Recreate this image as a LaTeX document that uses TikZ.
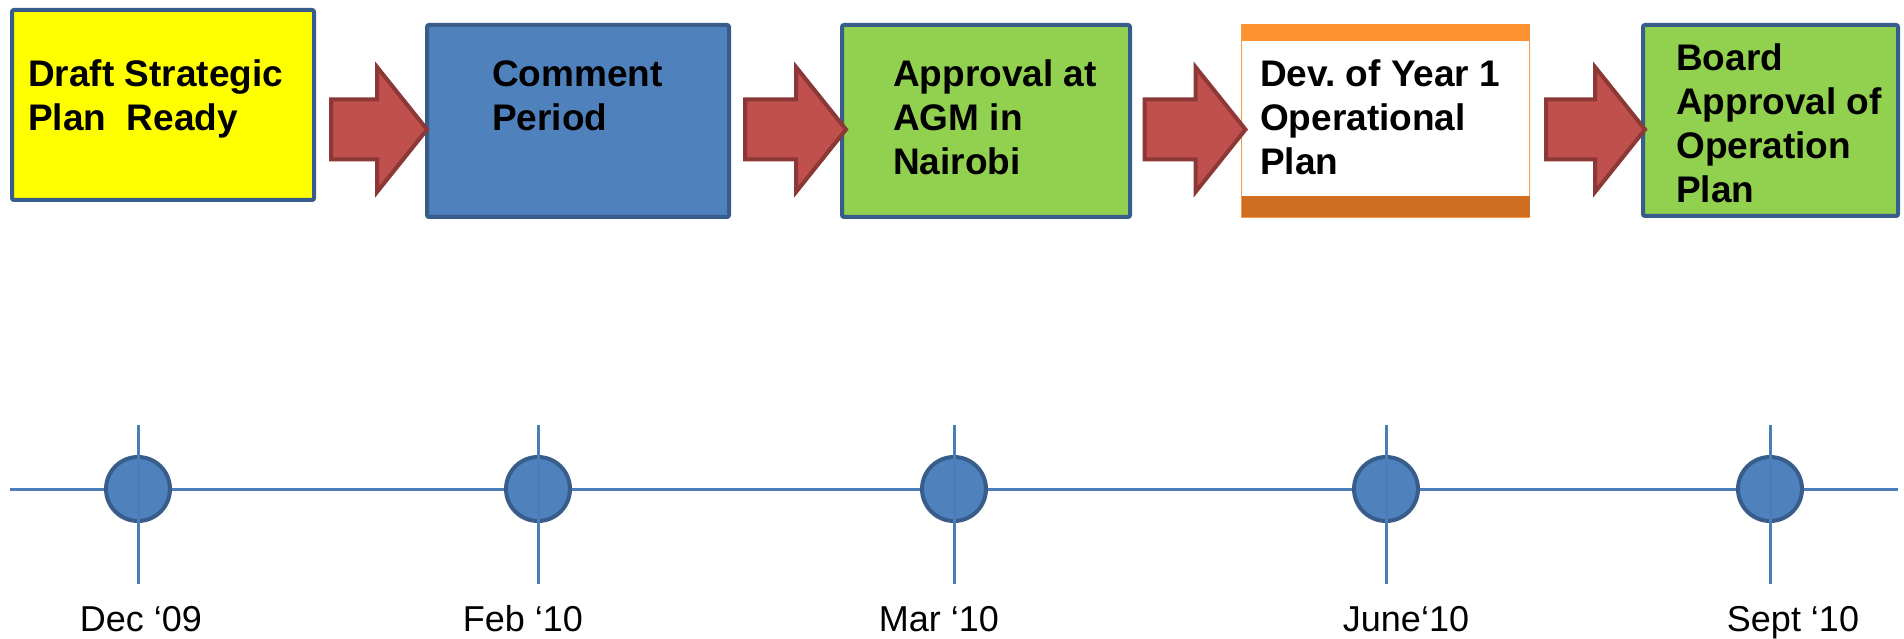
\documentclass[tikz,border=0pt]{standalone}
\usepackage{fontspec}
\setmainfont{Liberation Sans}
\usetikzlibrary{calc}
\frenchspacing
\definecolor{boxedge}{HTML}{385D8A}
\definecolor{boxblue}{HTML}{4F81BD}
\definecolor{boxgreen}{HTML}{92D050}
\definecolor{boxyellow}{HTML}{FFFF00}
\definecolor{arrfill}{HTML}{C0504D}
\definecolor{arredge}{HTML}{8C3836}
\definecolor{orangetop}{HTML}{FD9330}
\definecolor{orangebot}{HTML}{CF6E20}
\definecolor{orangeedge}{HTML}{F79646}
\definecolor{tlblue}{HTML}{4A7EBB}
\newcommand\blockarrow[3]{% #1 target box, #2 length, #3 tip offset
  \begin{scope}[shift={($(#1.west |- arrowmid)+(#3,0)$)}]
    \draw[blockarr] (0,0) -- (-50,62.5) -- (-50,30) -- (-#2,30) -- (-#2,-30) -- (-50,-30) -- (-50,-62.5) -- cycle;
  \end{scope}}
\begin{document}
\begin{tikzpicture}[x=1pt,y=-1pt,
  stagebox/.style={draw=boxedge, line width=4pt, rounded corners=2pt, inner sep=0pt, outer sep=0pt},
  stagetext/.style={anchor=base west, align=left, inner sep=0pt, font=\fontsize{37}{44}\selectfont\bfseries},
  blockarr/.style={draw=arredge, fill=arrfill, line width=4pt, line join=miter},
  tl/.style={draw=tlblue, line width=3pt},
  dot/.style={circle, draw=boxedge, fill=boxblue, line width=4pt, minimum size=64pt, inner sep=0pt, outer sep=0pt},
  datelabel/.style={anchor=base, inner sep=0pt, font=\fontsize{36}{43}\selectfont}]
\useasboundingbox (0,0) rectangle (1904,639);
\coordinate (arrowmid) at (0,129.5);
% boxes
\node[stagebox, fill=boxyellow, minimum width=302pt, minimum height=190pt] (b1) at (163,105) {};
\node[stagebox, fill=boxblue, minimum width=302pt, minimum height=192pt] (b2) at (578,121) {};
\node[stagebox, fill=boxgreen, minimum width=288pt, minimum height=192pt] (b3) at (986,121) {};
\node[draw=orangeedge, line width=1.5pt, fill=white, inner sep=0pt, outer sep=0pt, minimum width=288pt, minimum height=193pt] (b4) at (1385.5,121) {};
\fill[orangetop] (b4.north west) rectangle ($(b4.north east)+(0,17)$);
\fill[orangebot] ($(b4.south west)+(0,-21)$) rectangle (b4.south east);
\node[stagebox, fill=boxgreen, minimum width=255pt, minimum height=191pt] (b5) at (1770.5,120.5) {};
% texts (base anchor = baseline of the last line)
\node[stagetext] (t1) at (28,131) {Draft Strategic\\Plan \ Ready};
\node[stagetext] (t2) at (492,131) {Comment\\Period};
\node[stagetext] (t3) at (893,175) {Approval at\\AGM in\\Nairobi};
\node[stagetext] (t4) at (1260,175) {Dev. of Year 1\\Operational\\Plan};
\node[stagetext] (t5) at (1676,203) {Board\\Approval of\\Operation\\Plan};
% arrows
\blockarrow{b2}{96}{0}
\blockarrow{b3}{101}{4}
\blockarrow{b4}{101}{4}
\blockarrow{b5}{99}{2}
% timeline
\coordinate (tlL) at (10,489);
\coordinate (tlR) at (1898,489);
\draw[tl] (tlL) -- (tlR);
\foreach \n/\x in {1/138,2/538,3/954,4/1386,5/1770}{
  \node[dot] (c\n) at (\x,489) {};
  \coordinate (c\n top) at (\x,425);
  \coordinate (c\n bot) at (\x,584);
  \draw[tl] (c\n top) -- (c\n bot);
}
\node[datelabel] (l1) at (141,631) {Dec ‘09};
\node[datelabel] (l2) at (523,631) {Feb ‘10};
\node[datelabel] (l3) at (939,631) {Mar ‘10};
\node[datelabel] (l4) at (1406,631) {June‘10};
\node[datelabel] (l5) at (1793,631) {Sept ‘10};
\end{tikzpicture}
\end{document}
